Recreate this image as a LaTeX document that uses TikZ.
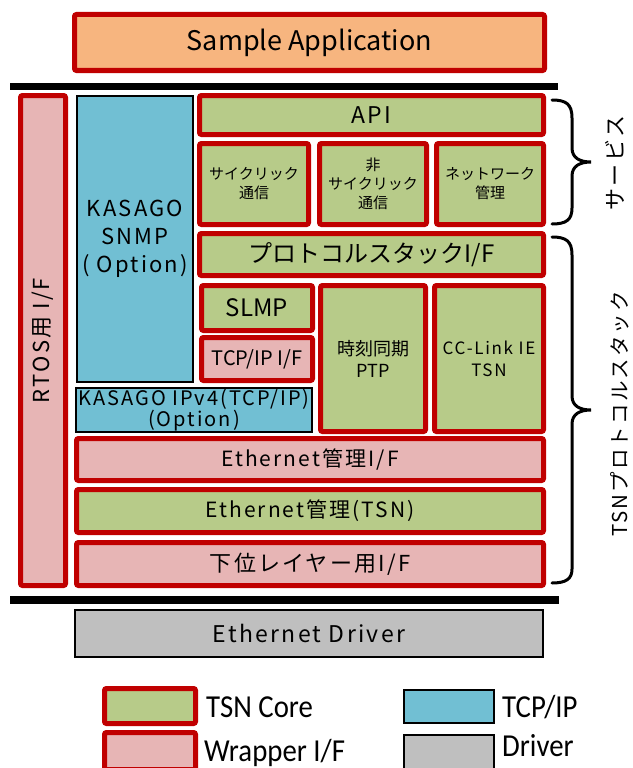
\documentclass[tikz,border=0pt]{standalone}
\usepackage{fontspec}
\setmainfont[LetterSpace=10]{Noto Sans CJK JP}
\newfontfamily\plain{Noto Sans CJK JP}
\newfontfamily\legendfont[FakeStretch=0.9]{Carlito}
\definecolor{tsnred}{HTML}{C00000}
\definecolor{coregreen}{HTML}{B7CB89}
\definecolor{wrappink}{HTML}{E7B5B5}
\definecolor{tcpblue}{HTML}{71BFD3}
\definecolor{drvgray}{HTML}{BFBFBF}
\definecolor{apporange}{HTML}{F7B57F}
\newcommand{\fs}[2]{\fontsize{#1}{#2}\selectfont}
% name, style, x1, y1, x2, y2, line width, text
\newcommand{\mybox}[8]{\node[#2, minimum width={#5pt-#3pt-#7pt}, minimum height={#6pt-#4pt-#7pt}] (#1) at ({(#3+#5)/2},{(#4+#6)/2}) {#8};}
\tikzset{
  redbox/.style={draw=tsnred, line width=5pt, rounded corners=2pt, inner sep=0pt, align=center, text=black},
  core/.style={redbox, fill=coregreen},
  wrap/.style={redbox, fill=wrappink},
  app/.style={redbox, fill=apporange},
  blkbox/.style={draw=black, line width=2pt, inner sep=0pt, align=center, text=black},
  tcp/.style={blkbox, fill=tcpblue},
  drv/.style={blkbox, fill=drvgray},
  sepline/.style={line width=7pt, black},
  bracel/.style={line width=3pt, black, line cap=round},
  sidelabel/.style={rotate=90, inner sep=0pt},
  legtext/.style={anchor=base west, inner sep=0pt, font=\legendfont\fs{32}{34}}
}
\begin{document}
\begin{tikzpicture}[x=1pt,y=-1pt]
\useasboundingbox (0,0) rectangle (632,768);
% application
\mybox{app}{app, font=\plain\fs{27}{30}}{72}{12}{547}{73}{5}{Sample Application}
% separator lines
\coordinate (t1) at (10,86);
\coordinate (t2) at (558,86);
\draw[sepline] (t1) -- (t2);
% RTOS column
\mybox{rtos}{wrap}{18}{93}{68}{588}{5}{}
\node[sidelabel, font=\fs{22}{24}] (rtoslabel) at (rtos.center) {RTOS用 I/F};
% KASAGO SNMP
\mybox{snmp}{tcp, font=\fs{22}{28}}{76}{95}{194}{383}{2}{KASAGO\\SNMP\\( Option)}
% services
\mybox{api}{core, font=\fs{23}{26}}{197}{93}{546}{137}{5}{API}
\mybox{cyc}{core, font=\plain\fs{15}{19}}{197}{141}{311}{227}{5}{サイクリック\\通信}
\mybox{acyc}{core, font=\plain\fs{15}{19}}{317}{141}{429}{227}{5}{非\\サイクリック\\通信}
\mybox{nw}{core, font=\plain\fs{15}{19}}{434}{141}{546}{227}{5}{ネットワーク\\管理}
% protocol stack
\mybox{psif}{core, font=\plain\fs{24}{28}}{197}{231}{546}{278}{5}{プロトコルスタックI/F}
\mybox{slmp}{core, font=\plain\fs{24}{28}}{199}{283}{315}{333}{5}{SLMP}
\mybox{tcpif}{wrap, font=\plain\fs{20}{22}}{199}{335}{315}{383}{5}{TCP/IP I/F}
\mybox{ptp}{core, font=\plain\fs{18}{22}}{318}{283}{428}{434}{5}{時刻同期\\PTP}
\mybox{cclink}{core, font=\fs{17}{22}}{432}{283}{546}{434}{5}{CC-Link IE\\TSN}
\mybox{ipv4}{tcp, font=\fs{20}{21}}{75}{387}{313}{433}{2}{KASAGO IPv4(TCP/IP)\\(Option)}
\mybox{ethif}{wrap, font=\fs{21}{24}}{74}{436}{546}{483}{5}{Ethernet管理I/F}
\mybox{ethtsn}{core, font=\fs{21}{24}}{74}{487}{546}{535}{5}{Ethernet管理(TSN)}
\mybox{lower}{wrap, font=\fs{22}{24}}{74}{540}{546}{588}{5}{下位レイヤー用I/F}
% bottom separator
\coordinate (b1) at (10,599.5);
\coordinate (b2) at (559,599.5);
\draw[sepline, line width=8pt] (b1) -- (b2);
% driver
\mybox{driver}{drv, font=\fs{23}{26}}{74}{609}{544}{658}{2}{Ethernet Driver}
% braces
\draw[bracel] (552,100) .. controls (566,100) and (572,104) .. (572,118) -- (572,148)
  .. controls (572,158) and (580,162) .. (591,162)
  .. controls (580,162) and (572,166) .. (572,176) -- (572,208)
  .. controls (572,220) and (566,224) .. (552,224);
\node[sidelabel, font=\fs{22}{24}] (svclabel) at (615,163) {サービス};
\draw[bracel] (552,237) .. controls (566,237) and (572,241) .. (572,255) -- (572,396)
  .. controls (572,406) and (580,410) .. (591,410)
  .. controls (580,410) and (572,414) .. (572,424) -- (572,569)
  .. controls (572,579) and (566,583) .. (552,583);
\node[sidelabel, font=\fs{20.5}{24}] (tsnlabel) at (620,414) {TSNプロトコルスタック};
% legend
\mybox{lgcore}{core}{102}{686}{198}{726}{5}{}
\mybox{lgwrap}{wrap}{102}{730}{198}{772}{5}{}
\mybox{lgtcp}{tcp}{403}{689}{495}{724}{2}{}
\mybox{lgdrv}{drv}{403}{734}{495}{774}{2}{}
\node[legtext] (lt1) at (206,717) {TSN Core};
\node[legtext] (lt2) at (204,761) {Wrapper I/F};
\node[legtext] (lt3) at (502,717) {TCP/IP};
\node[legtext] (lt4) at (502,756) {Driver};
\end{tikzpicture}
\end{document}
